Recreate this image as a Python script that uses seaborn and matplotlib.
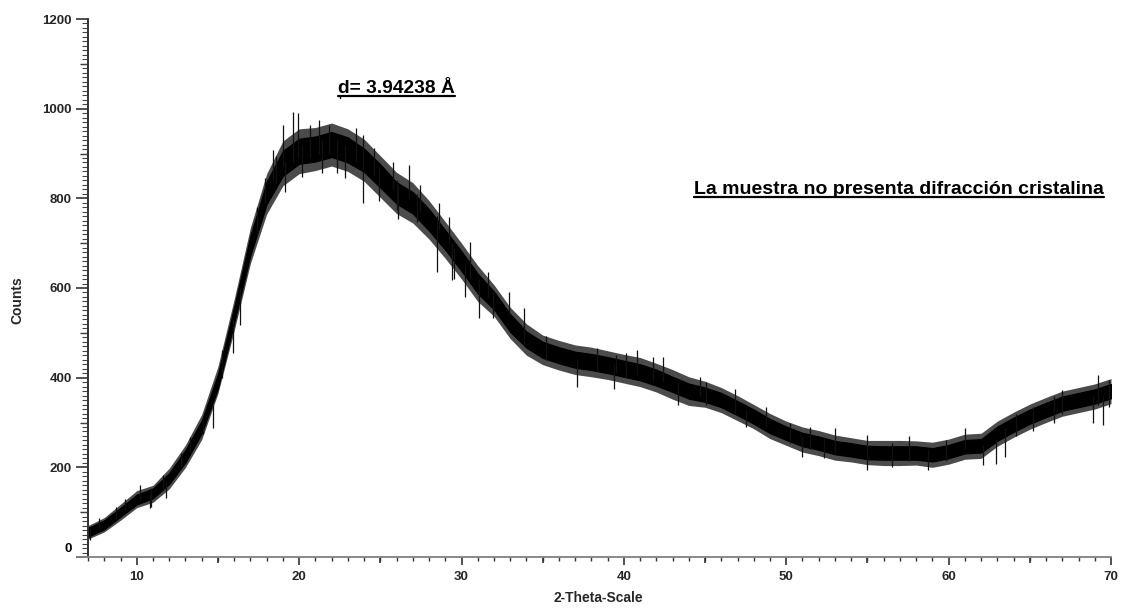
import matplotlib
matplotlib.use("Agg")
import matplotlib.pyplot as plt
from matplotlib.lines import Line2D
from matplotlib.ticker import MultipleLocator, NullLocator
import pandas as pd
import seaborn as sns

# Diffractogram sampled every degree: central trace, dense core of the noise and its outer reach
theta = list(range(7, 71))
counts = [55, 72, 100, 128, 142, 175, 225, 290, 392, 540, 695, 812, 878, 905, 910, 920,
          908, 885, 850, 812, 790, 752, 707, 660, 610, 572, 522, 485, 462, 450, 440, 435,
          428, 420, 412, 400, 385, 370, 362, 350, 332, 313, 292, 276, 262, 254, 244, 239,
          233, 232, 232, 232, 228, 235, 246, 248, 275, 295, 313, 328, 342, 350, 358, 370]
upper = [65, 82, 110, 139, 153, 187, 239, 304, 408, 558, 717, 837, 906, 933, 938, 948,
         936, 911, 876, 836, 814, 776, 729, 682, 632, 592, 542, 503, 480, 468, 458, 453,
         446, 438, 430, 418, 402, 387, 378, 366, 348, 329, 308, 291, 277, 269, 259, 254,
         248, 247, 247, 247, 243, 250, 261, 263, 291, 311, 329, 344, 358, 366, 374, 386]
lower = [45, 62, 90, 117, 131, 163, 211, 276, 376, 522, 673, 787, 850, 877, 882, 892,
         880, 859, 824, 788, 766, 728, 685, 638, 588, 552, 502, 467, 444, 432, 422, 417,
         410, 402, 394, 382, 368, 353, 346, 334, 316, 297, 276, 261, 247, 239, 229, 224,
         218, 217, 217, 217, 213, 220, 231, 233, 259, 279, 297, 312, 326, 334, 342, 354]
outer_upper = [70, 88, 118, 148, 160, 198, 250, 318, 425, 575, 735, 855, 928, 955, 958, 968,
               955, 932, 895, 858, 835, 795, 748, 700, 650, 607, 557, 520, 495, 483, 473, 468,
               460, 452, 445, 432, 418, 402, 392, 378, 360, 340, 320, 303, 290, 282, 272, 266,
               260, 260, 260, 259, 256, 263, 274, 276, 303, 323, 341, 356, 370, 378, 386, 398]
outer_lower = [40, 56, 82, 110, 122, 152, 200, 262, 365, 505, 655, 765, 828, 855, 862, 872,
               860, 838, 802, 766, 745, 709, 666, 620, 570, 537, 487, 450, 429, 417, 407, 402,
               396, 388, 380, 368, 352, 338, 334, 322, 304, 286, 264, 249, 234, 226, 216, 212,
               206, 204, 204, 205, 200, 207, 218, 220, 247, 267, 285, 300, 314, 322, 330, 342]

# Individual noise spikes reaching out of the band
spike_theta = [7.1, 7.7, 8.7, 9.3, 10.2, 10.8, 10.9, 11.6, 11.8, 12.7, 13.3, 14.1, 14.7,
               15.25, 15.9, 16.37, 17.39, 17.9, 18.42, 18.6, 19.03, 19.14, 19.61, 19.96,
               20.17, 20.68, 21.23, 21.4, 21.81, 22.32, 22.83, 23.51, 23.96, 24.62, 24.89,
               25.81, 26.02, 26.1, 26.74, 27.25, 27.46, 28.52, 28.59, 29.26, 29.4, 29.51,
               30.23, 30.54, 31.05, 31.66, 31.97, 32.9, 33.82, 35.19, 37.12, 38.36, 39.38,
               39.49, 40.1, 40.8, 41.79, 42.4, 43.34, 44.7, 45.04, 46.85, 47.5, 48.77,
               50.25, 51.0, 51.49, 52.3, 53.0, 55.0, 56.5, 57.54, 58.75, 59.86, 61.0, 62.1,
               62.9, 63.5, 64.17, 65.2, 66.5, 67.0, 68.9, 69.2, 69.5, 69.9]
spike_low = [38, 62, 85, 105, 128, 109, 112, 150, 132, 200, 235, 275, 288,
             400, 455, 517, 718, 790, 840, 835, 870, 815, 880, 890,
             848, 890, 900, 856, 900, 856, 845, 880, 789, 850, 793,
             820, 774, 755, 800, 748, 770, 636, 730, 700, 618, 621,
             580, 620, 532, 580, 532, 540, 470, 440, 380, 415, 375,
             410, 400, 405, 390, 390, 340, 360, 340, 320, 290, 290,
             255, 223, 240, 220, 230, 194, 200, 215, 194, 215, 240, 205,
             207, 223, 270, 280, 300, 320, 298, 340, 294, 335]
spike_high = [62, 87, 112, 129, 160, 140, 150, 183, 170, 232, 268, 306, 340,
              462, 530, 600, 780, 845, 908, 895, 964, 880, 993, 990,
              920, 964, 975, 930, 964, 930, 920, 956, 941, 912, 870,
              882, 840, 830, 874, 810, 830, 760, 790, 759, 700, 690,
              650, 702, 620, 636, 590, 592, 555, 492, 440, 467, 430,
              451, 455, 461, 447, 446, 390, 402, 390, 375, 330, 335,
              300, 270, 290, 265, 288, 272, 255, 270, 240, 262, 288, 250,
              260, 290, 320, 335, 360, 372, 360, 406, 360, 395]

peak_theta = 22.536
peak_counts = 1024
peak_label = "d= 3.94238 Å"
note_text = "La muestra no presenta difracción cristalina"

sns.set_theme(style="white")
plt.rcParams["font.family"] = ["Liberation Sans", "DejaVu Sans"]
plt.rcParams["font.weight"] = "bold"

W, H = 1123, 610
fig = plt.figure(figsize=(W / 100, H / 100), dpi=100)
xmin, xmax = 6.32, 70.0
ax = fig.add_axes([77 / W, 53 / H, (1111 - 77) / W, (591 - 53) / H])
ax.set_xlim(xmin, xmax)
ax.set_ylim(0, 1200)

df = pd.DataFrame({"theta": theta, "counts": counts, "upper": upper, "lower": lower,
                   "outer_upper": outer_upper, "outer_lower": outer_lower})
ax.fill_between(df["theta"], df["outer_lower"], df["outer_upper"], color="#1e1e1e",
                alpha=0.8, lw=0)
ax.fill_between(df["theta"], df["lower"], df["upper"], color="black", lw=0.8)
sns.lineplot(data=df, x="theta", y="counts", color="black", lw=1.0, ax=ax)
ax.vlines(spike_theta, spike_low, spike_high, color="#111111", lw=0.9)

# Axes frame: y spine sits at the start of the scan, x axis runs a little past it
for side in ("top", "right"):
    ax.spines[side].set_visible(False)
ax.spines["left"].set_position(("data", 7))
ax.spines["left"].set_color("#333333")
ax.spines["bottom"].set_color("#8a8a8a")
ax.spines["left"].set_linewidth(1.2)
ax.spines["bottom"].set_linewidth(1.2)

ax.set_xticks(range(10, 71, 10))
ax.xaxis.set_minor_locator(MultipleLocator(1))
ax.set_yticks(range(0, 1201, 200))
ax.set_yticklabels([""] + [str(v) for v in range(200, 1201, 200)])
ax.yaxis.set_minor_locator(MultipleLocator(10))
ax.tick_params(axis="both", which="both", bottom=True, left=True, top=False, right=False)
ax.tick_params(axis="x", which="major", direction="out", length=6, width=1.2,
               color="#333333", labelsize=9.5, pad=4)
ax.tick_params(axis="x", which="minor", direction="out", length=3, width=1.0, color="#333333")
ax.tick_params(axis="y", which="major", direction="out", length=9, width=1.2,
               color="#333333", labelsize=9.5, pad=2.5)
ax.tick_params(axis="y", which="minor", direction="out", length=4, width=0.8, color="#444444")
ax.set_xlabel("")
ax.set_ylabel("")
for lab in ax.get_xticklabels() + ax.get_yticklabels():
    lab.set_fontweight("bold")

# Intermediate tick marks at every 5 degrees and every 100 counts
x0 = (7 - xmin) / (xmax - xmin)
sy = ax.secondary_yaxis(x0)
sy.set_yticks(range(100, 1200, 200))
sy.set_yticklabels([])
sy.yaxis.set_minor_locator(NullLocator())
sy.tick_params(axis="y", which="major", left=True, direction="out", length=6, width=1.0,
               color="#333333")
sy.spines["left"].set_color("#333333")
sx = ax.secondary_xaxis(0)
sx.set_xticks(range(15, 70, 10))
sx.set_xticklabels([])
sx.xaxis.set_minor_locator(NullLocator())
sx.tick_params(axis="x", which="major", bottom=True, direction="out", length=4.5, width=1.2,
               color="#333333")
sx.spines["bottom"].set_color("#8a8a8a")

ax.annotate("0", xy=(x0, 0), xycoords=("axes fraction", "data"), xytext=(-11.5, 5.5),
            textcoords="offset points", ha="right", va="center", fontsize=9.5,
            fontweight="bold", color="black")

fig.text(598 / W, 1 - 598 / H, "2-Theta-Scale", ha="center", va="center",
         fontsize=10, fontweight="bold")
fig.text(17 / W, 1 - 300 / H, "Counts", ha="center", va="center", rotation=90,
         fontsize=10, fontweight="bold")

# Labels with underline
label_y = 1036
t1 = ax.text(peak_theta - 0.12, label_y, peak_label, ha="left", va="baseline",
             fontsize=13.8, fontweight="bold", color="black")
note_y = 809
t2 = ax.text(44.34, note_y, note_text, ha="left", va="baseline",
             fontsize=14, fontweight="bold", color="black")

fig.canvas.draw()
renderer = fig.canvas.get_renderer()
for txt, y in ((t1, label_y), (t2, note_y)):
    bb = txt.get_window_extent(renderer)
    yb = ax.transData.transform((0, y))[1] - 3.0
    fig.add_artist(Line2D([bb.x0 / W, bb.x1 / W], [yb / H, yb / H],
                          transform=fig.transFigure, color="black", lw=1.6))

underline_counts = ax.transData.inverted().transform(
    (0, ax.transData.transform((0, label_y))[1] - 3.0))[1]
ax.plot([peak_theta, peak_theta], [peak_counts, underline_counts], color="black", lw=1.0,
        clip_on=False)

fig.savefig("out.png", dpi=100)
